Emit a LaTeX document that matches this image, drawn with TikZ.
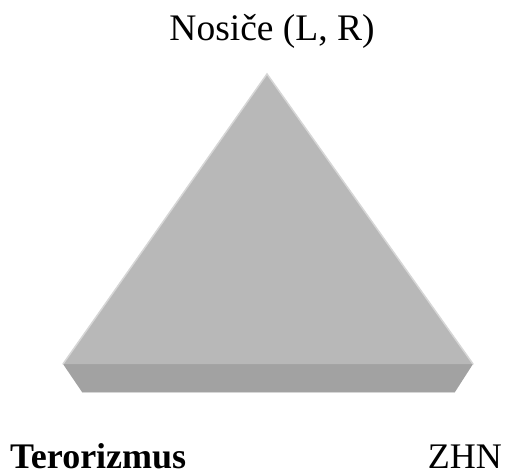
\documentclass[tikz,border=0pt]{standalone}
\usepackage{fontspec}
\setmainfont{Liberation Serif}
\begin{document}
\begin{tikzpicture}[x=1pt,y=-1pt,
  lbl/.style={inner sep=0pt,text depth=0pt,font=\fontsize{36}{40}\selectfont},
  topface/.style={fill=topgray},
  frontface/.style={fill=frontgray}]
\definecolor{topgray}{HTML}{B8B8B8}
\definecolor{frontgray}{HTML}{A2A2A2}
\definecolor{edgegray}{HTML}{D6D6D6}
\useasboundingbox (0,0) rectangle (505,473);
\coordinate (apex) at (267,74);
\coordinate (bl) at (63,364);
\coordinate (br) at (473,364);
\coordinate (fl) at (82,392);
\coordinate (fr) at (455,392);
\fill[frontface] (bl) -- (br) -- (fr) -- (fl) -- cycle;
\draw[edgegray,line width=1pt] (fl) -- (fr);
\fill[topface] (apex) -- (br) -- (bl) -- cycle;
\draw[edgegray,line width=1.5pt,line cap=round] (bl) -- (apex) -- (br);
\node[lbl,anchor=base,font=\fontsize{37.5}{40}\selectfont] (top) at (272,41) {Nosiče (L, R)};
\node[lbl,anchor=base west,font=\fontsize{36}{40}\selectfont\bfseries] (ter) at (10,468) {Terorizmus};
\node[lbl,anchor=base east] (zhn) at (502,468) {ZHN};
\end{tikzpicture}
\end{document}
